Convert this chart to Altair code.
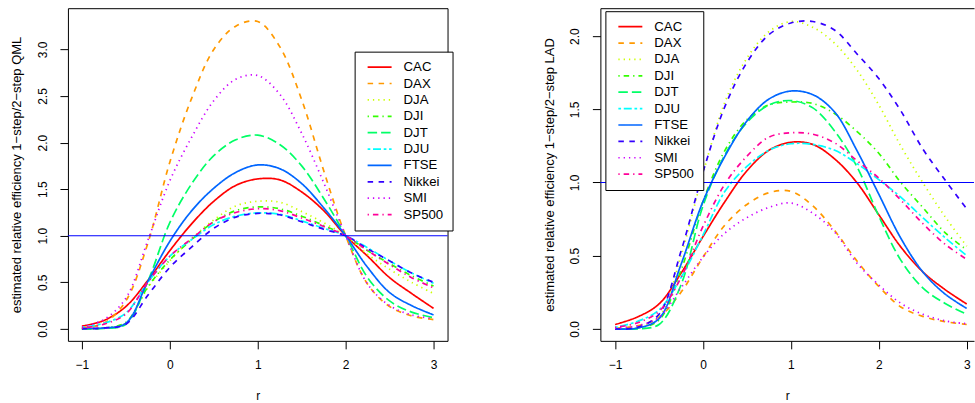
import altair as alt
import pandas as pd

# ---------------- data ----------------
r_values = [-1.0, -0.75, -0.5, -0.25, 0.0, 0.25, 0.5, 0.75, 1.0, 1.25, 1.5, 1.75, 2.0, 2.25, 2.5, 2.75, 3.0]

series_names = ["CAC", "DAX", "DJA", "DJI", "DJT", "DJU", "FTSE", "Nikkei", "SMI", "SP500"]

# left panel: 1-step / 2-step QML
qml_cac = [0.03, 0.09, 0.24, 0.52, 0.84, 1.13, 1.37, 1.54, 1.61, 1.60, 1.47, 1.27, 1.00, 0.78, 0.55, 0.38, 0.22]
qml_dax = [0.01, 0.06, 0.30, 0.92, 1.79, 2.48, 3.00, 3.25, 3.30, 3.03, 2.46, 1.70, 1.00, 0.48, 0.24, 0.14, 0.10]
qml_dja = [0.0, 0.01, 0.06, 0.44, 0.73, 0.97, 1.17, 1.32, 1.37, 1.36, 1.26, 1.14, 1.00, 0.80, 0.64, 0.50, 0.38]
qml_dji = [0.0, 0.01, 0.07, 0.45, 0.74, 0.96, 1.15, 1.27, 1.31, 1.29, 1.21, 1.11, 1.00, 0.84, 0.70, 0.57, 0.46]
qml_djt = [0.0, 0.005, 0.05, 0.51, 1.14, 1.56, 1.86, 2.03, 2.08, 1.98, 1.75, 1.40, 1.00, 0.55, 0.30, 0.18, 0.12]
qml_dju = [0.015, 0.06, 0.17, 0.50, 0.78, 0.96, 1.12, 1.21, 1.245, 1.23, 1.16, 1.08, 1.00, 0.87, 0.73, 0.60, 0.49]
qml_ftse = [0.005, 0.01, 0.06, 0.51, 0.94, 1.27, 1.51, 1.68, 1.76, 1.72, 1.56, 1.30, 1.00, 0.66, 0.39, 0.25, 0.15]
qml_nikkei = [0.0, 0.01, 0.05, 0.36, 0.66, 0.88, 1.08, 1.20, 1.24, 1.225, 1.15, 1.07, 1.00, 0.86, 0.73, 0.60, 0.50]
qml_smi = [0.02, 0.10, 0.33, 0.95, 1.59, 2.06, 2.45, 2.68, 2.72, 2.52, 2.10, 1.57, 1.00, 0.48, 0.25, 0.15, 0.11]
qml_sp500 = [0.01, 0.05, 0.16, 0.50, 0.78, 0.97, 1.15, 1.25, 1.29, 1.27, 1.19, 1.10, 1.00, 0.84, 0.69, 0.55, 0.44]

# right panel: 1-step / 2-step LAD
lad_cac = [0.03, 0.08, 0.17, 0.38, 0.63, 0.87, 1.08, 1.22, 1.275, 1.26, 1.16, 1.00, 0.78, 0.56, 0.39, 0.27, 0.17]
lad_dax = [0.005, 0.02, 0.08, 0.25, 0.49, 0.71, 0.85, 0.93, 0.94, 0.84, 0.67, 0.465, 0.29, 0.15, 0.085, 0.05, 0.03]
lad_dja = [0.0, 0.01, 0.08, 0.50, 1.06, 1.55, 1.85, 2.03, 2.10, 2.06, 1.95, 1.77, 1.53, 1.25, 1.00, 0.77, 0.565]
lad_dji = [0.0, 0.005, 0.06, 0.40, 0.87, 1.22, 1.43, 1.53, 1.55, 1.54, 1.47, 1.35, 1.20, 1.00, 0.83, 0.66, 0.54]
lad_djt = [0.0, 0.0, 0.03, 0.30, 0.84, 1.19, 1.41, 1.53, 1.56, 1.51, 1.35, 1.11, 0.77, 0.47, 0.28, 0.175, 0.10]
lad_dju = [0.01, 0.05, 0.13, 0.35, 0.64, 0.94, 1.11, 1.22, 1.265, 1.26, 1.22, 1.13, 1.02, 0.90, 0.76, 0.625, 0.50]
lad_ftse = [0.0, 0.005, 0.07, 0.44, 0.87, 1.18, 1.42, 1.57, 1.625, 1.60, 1.48, 1.22, 0.92, 0.62, 0.39, 0.24, 0.14]
lad_nikkei = [0.0, 0.01, 0.10, 0.53, 1.07, 1.52, 1.82, 2.01, 2.09, 2.10, 2.04, 1.88, 1.71, 1.49, 1.23, 1.02, 0.82]
lad_smi = [0.005, 0.02, 0.08, 0.28, 0.49, 0.655, 0.76, 0.83, 0.86, 0.79, 0.66, 0.45, 0.30, 0.175, 0.10, 0.055, 0.035]
lad_sp500 = [0.01, 0.04, 0.12, 0.35, 0.70, 0.99, 1.18, 1.31, 1.34, 1.33, 1.27, 1.15, 1.03, 0.88, 0.72, 0.58, 0.475]

reference_level = [1.0]

x_ticks = [-1, 0, 1, 2, 3]
qml_y_ticks = [0.0, 0.5, 1.0, 1.5, 2.0, 2.5, 3.0]
lad_y_ticks = [0.0, 0.5, 1.0, 1.5, 2.0]

# ---------------- styles ----------------
series_colors = ["#FF0000", "#FF9900", "#CCFF00", "#33FF00", "#00FF66",
                 "#00FFFF", "#0066FF", "#3300FF", "#CC00FF", "#FF0099"]
series_dashes = [[1, 0], [5.5, 5.5], [1.3, 4], [1.3, 4, 5.5, 4], [9.5, 4],
                 [2.7, 2.7, 8, 2.7], [1, 0], [5.5, 5.5], [1.3, 4], [1.3, 4, 5.5, 4]]

FONT = "Liberation Sans"


def long_frame(columns):
    rows = []
    for name, vals in zip(series_names, columns):
        for r, v in zip(r_values, vals):
            rows.append({"r": r, "v": v, "series": name})
    return pd.DataFrame(rows)


def panel(df, width, height, xdom, ydom, yticks, ytitle, leg_x, leg_y, right_edge):
    legend = alt.Legend(
        title=None, orient="none", legendX=leg_x, legendY=leg_y,
        strokeColor="black", fillColor="white", padding=9, cornerRadius=0,
        symbolType="stroke", symbolSize=576, symbolStrokeWidth=1.7, symbolOffset=3,
        labelFont=FONT, labelFontSize=13.2, labelColor="black", labelOffset=11,
        clipHeight=13, rowPadding=2.4,
    )
    xscale = alt.Scale(domain=xdom, nice=False, zero=False)
    yscale = alt.Scale(domain=ydom, nice=False, zero=False)

    lines = alt.Chart(df).mark_line(
        strokeWidth=1.7, interpolate="catmull-rom", clip=True
    ).encode(
        x=alt.X("r:Q", scale=xscale, axis=alt.Axis(
            values=x_ticks, format="d", title="r", tickSize=8, labelPadding=10.5,
            labelFlush=False, domain=True, titleBaseline="alphabetic", titleY=58.5,
        )),
        y=alt.Y("v:Q", scale=yscale, axis=alt.Axis(
            values=yticks, format=".1f", title=ytitle, tickSize=8,
            labelAngle=270, labelAlign="center", labelBaseline="middle", labelPadding=17.5,
            labelFlush=False, domain=True, titleAngle=270, titleBaseline="middle",
            titleAlign="center", titleX=-51, titleY=height / 2, titleFontSize=13,
        )),
        color=alt.Color("series:N", scale=alt.Scale(domain=series_names, range=series_colors),
                        legend=legend),
        strokeDash=alt.StrokeDash("series:N", scale=alt.Scale(domain=series_names, range=series_dashes),
                                  legend=legend),
    )

    hline = alt.Chart(pd.DataFrame({"level": reference_level})).mark_rule(
        color="#0000FF", strokeWidth=1.1
    ).encode(y=alt.Y("level:Q", axis=None))

    if right_edge:
        yframe = alt.Y("v:Q", axis=alt.Axis(orient="right", labels=False, ticks=False,
                                            title=None, domain=True))
    else:
        yframe = alt.Y("v:Q", axis=None)
    frame = alt.Chart(df).mark_point(opacity=0, size=1).encode(
        x=alt.X("r:Q", axis=alt.Axis(orient="top", labels=False, ticks=False,
                                     title=None, domain=True)),
        y=yframe,
    )

    return alt.layer(lines, hline, frame).resolve_axis(
        x="independent", y="independent"
    ).properties(width=width, height=height)


qml_df = long_frame([qml_cac, qml_dax, qml_dja, qml_dji, qml_djt, qml_dju,
                     qml_ftse, qml_nikkei, qml_smi, qml_sp500])
lad_df = long_frame([lad_cac, lad_dax, lad_dja, lad_dji, lad_djt, lad_dju,
                     lad_ftse, lad_nikkei, lad_smi, lad_sp500])

left = panel(qml_df, 380, 333, [-1.159, 3.159], [-0.1287, 3.443], qml_y_ticks,
             "estimated relative efficiency 1\u2212step/2\u2212step QML", 287, 43.5, True)
right = panel(lad_df, 374, 333, [-1.167, 3.083], [-0.0819, 2.191], lad_y_ticks,
              "estimated relative efficiency 1\u2212step/2\u2212step LAD", 5, 3, False)

chart = alt.hconcat(left, right, spacing=153, bounds="flush").resolve_scale(
    x="independent", y="independent", color="independent", strokeDash="independent"
).resolve_legend(
    color="independent", strokeDash="independent"
).properties(
    padding={"left": 10, "top": 8, "right": 0, "bottom": 0},
    background="white",
).configure_view(
    strokeWidth=0
).configure_axis(
    labelFont=FONT, titleFont=FONT, labelFontSize=12, titleFontSize=12,
    titleFontWeight="normal", labelColor="black", titleColor="black",
    domainColor="black", domainWidth=1, tickColor="black", tickWidth=1, grid=False,
)

chart.save("out.html", embed_options={"renderer": "svg", "actions": False})
